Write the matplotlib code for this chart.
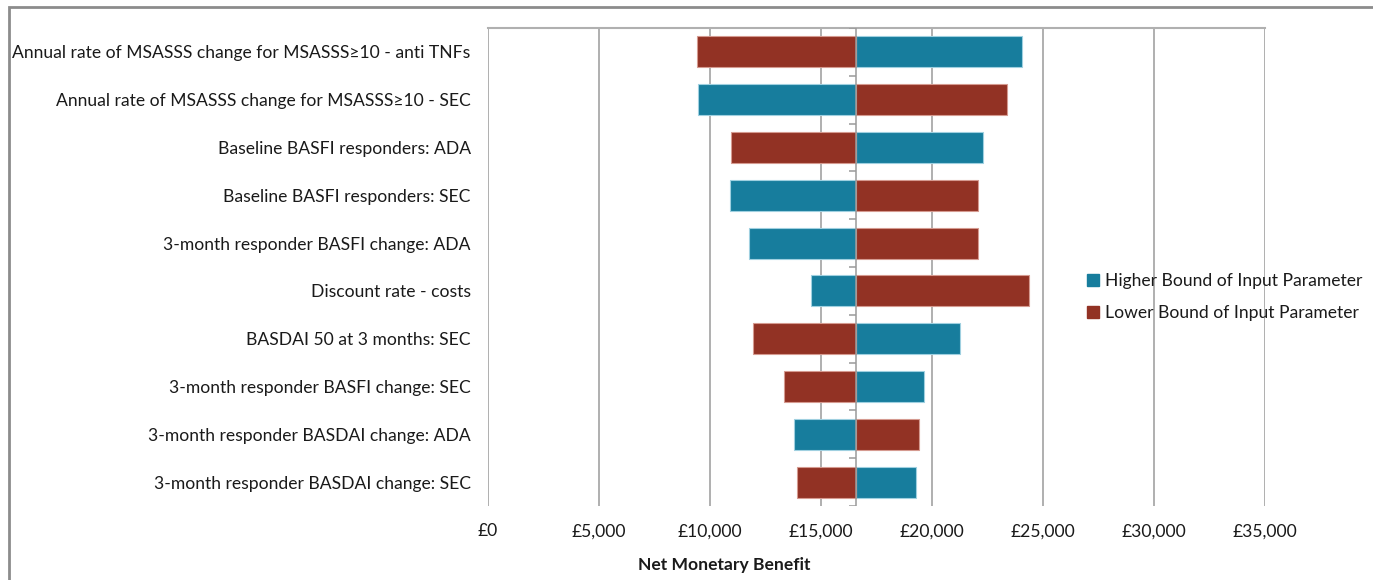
import matplotlib
matplotlib.use("Agg")
import matplotlib.pyplot as plt
from matplotlib.patches import Rectangle
from matplotlib.ticker import FuncFormatter
from matplotlib.lines import Line2D

plt.rcParams['font.family'] = ['Lato', 'DejaVu Sans']

# One-way sensitivity analysis: net monetary benefit at each parameter bound
categories = [
    "Annual rate of MSASSS change for MSASSS\u226510 - anti TNFs",
    "Annual rate of MSASSS change for MSASSS\u226510 - SEC",
    "Baseline BASFI responders: ADA",
    "Baseline BASFI responders: SEC",
    "3-month responder BASFI change: ADA",
    "Discount rate - costs",
    "BASDAI 50 at 3 months: SEC",
    "3-month responder BASFI change: SEC",
    "3-month responder BASDAI change: ADA",
    "3-month responder BASDAI change: SEC",
]
base_nmb = 16590
higher_bound_nmb = [24050, 9470, 22290, 10920, 11770, 14570, 21280, 19630, 13780, 19280]
lower_bound_nmb = [9430, 23400, 10960, 22080, 22080, 24380, 11940, 13340, 19420, 13900]
x_ticks = [0, 5000, 10000, 15000, 20000, 25000, 30000, 35000]

BLUE = "#177D9D"
RED = "#923224"
GRID = "#9a9a9a"
TEXT = "#1a1a1a"
FS = 12.6

fig = plt.figure(figsize=(13.73, 5.8), dpi=100)
ax = fig.add_axes([488 / 1373, 1 - 506 / 580, 777 / 1373, 478 / 580])

ypos = list(range(len(categories)))
bar_h = 0.65
ax.barh(ypos, [v - base_nmb for v in higher_bound_nmb], left=base_nmb, height=bar_h,
        color=BLUE, edgecolor="#9fd0e0", linewidth=0.8, zorder=3,
        label="Higher Bound of Input Parameter")
ax.barh(ypos, [v - base_nmb for v in lower_bound_nmb], left=base_nmb, height=bar_h,
        color=RED, edgecolor="#d59a90", linewidth=0.8, zorder=3,
        label="Lower Bound of Input Parameter")

ax.set_xlim(0, 35000)
ax.set_ylim(len(categories) - 0.5, -0.5)
ax.set_xticks(x_ticks)
ax.xaxis.set_major_formatter(FuncFormatter(lambda v, p: f"\u00a3{int(v):,}"))
ax.grid(axis='x', color=GRID, linewidth=1.1, zorder=0)
ax.tick_params(axis='x', length=0, pad=12.5, labelsize=FS, labelcolor=TEXT)
ax.set_yticks(ypos)
ax.set_yticklabels(categories)
ax.tick_params(axis='y', length=0, pad=12.5, labelsize=FS, labelcolor=TEXT)

for side in ("left", "right", "bottom"):
    ax.spines[side].set_visible(False)
ax.spines["top"].set_color("#b0b0b0")
ax.spines["top"].set_linewidth(1.5)

# central axis at the base-case value with category separator ticks
ax.axvline(base_nmb, color=GRID, linewidth=1.1, zorder=4)
tick_len = 320
for b in [i - 0.5 for i in range(len(categories) + 1)]:
    ax.plot([base_nmb - tick_len, base_nmb], [b, b], color=GRID, linewidth=1.1,
            zorder=4, solid_capstyle="butt")

ax.text(0.3045, -0.123, "Net Monetary Benefit", transform=ax.transAxes,
        ha="center", va="center", fontsize=FS, fontweight="bold", color=TEXT)

handles = [Line2D([], [], marker="s", linestyle="none", markersize=9,
                  markerfacecolor=c, markeredgecolor=c) for c in (BLUE, RED)]
fig.legend(handles, ["Higher Bound of Input Parameter", "Lower Bound of Input Parameter"],
           loc="center left", bbox_to_anchor=(1072 / 1373, 1 - 297 / 580),
           frameon=False, fontsize=FS, handlelength=0.6, handletextpad=0.4,
           labelspacing=0.95, labelcolor=TEXT)

# outer frame of the figure panel
fig.patches.append(Rectangle((9 / 1373, -0.1), 1.2, 1 - 7 / 580 + 0.1,
                             transform=fig.transFigure, fill=False,
                             edgecolor="#8c8c8c", linewidth=2))

fig.savefig("out.png", dpi=100)
